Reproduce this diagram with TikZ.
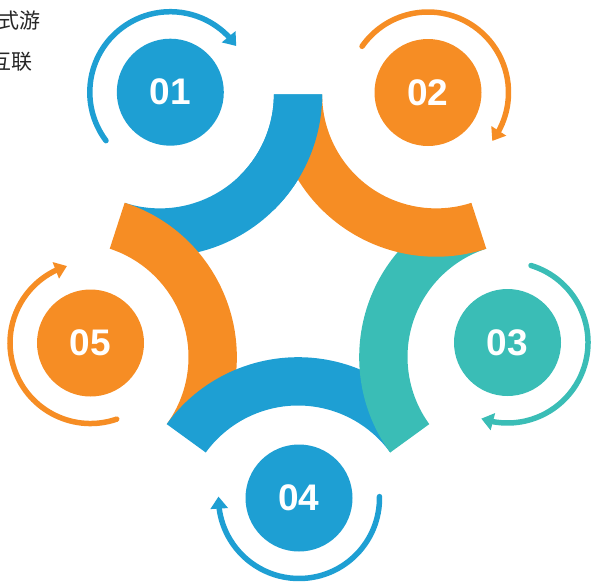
\documentclass[tikz,border=0pt]{standalone}
\usepackage{fontspec}
\setmainfont{Liberation Sans}
\newfontfamily\cjkfont{Noto Sans CJK SC}
\usetikzlibrary{calc,arrows.meta,bending}
\definecolor{cblue}{HTML}{1E9FD3}
\definecolor{corange}{HTML}{F68D24}
\definecolor{cteal}{HTML}{3ABDB6}
\definecolor{ctext}{HTML}{262626}
% band: centre, start angle, colour
\newcommand\mybandshape[3]{%
  \fill[#3] ($(#1)+(#2:162.3)$) arc[start angle=#2, end angle=#2+90, radius=162.3]
    -- ($(#1)+(#2+108:114)$) arc[start angle=#2+108, end angle=#2, radius=114] -- cycle;}
\newcommand\mybandstart[3]{%
  \fill[#3] ($(#1)+(#2:162.3)$) arc[start angle=#2, end angle=#2+45, radius=162.3]
    -- ($(#1)+(#2+45:114)$) arc[start angle=#2+45, end angle=#2, radius=114] -- cycle;}
\begin{document}
\begin{tikzpicture}[x=1pt,y=-1pt,
  numcirc/.style={circle,minimum size=107pt,inner sep=0pt,text=white,
    font=\fontsize{37}{37}\selectfont\bfseries},
  ringarrow/.style={line width=5.5pt,line cap=round,
    -{Triangle[length=12pt,width=17pt]}},
  cjklabel/.style={anchor=base east,inner sep=0pt,text=ctext,
    font=\cjkfont\fontsize{21}{21}\selectfont}]
\useasboundingbox (0,0) rectangle (594,581);
\coordinate (P) at (298,284.5);
\coordinate (B1) at ($(P)+(234:235)$);
\coordinate (B2) at ($(P)+(306:235)$);
\coordinate (B3) at ($(P)+(18:235)$);
\coordinate (B4) at ($(P)+(90:235)$);
\coordinate (B5) at ($(P)+(162:235)$);
% bands
\mybandshape{B1}{0}{cblue}
\mybandshape{B5}{288}{corange}
\mybandshape{B4}{216}{cblue}
\mybandshape{B3}{144}{cteal}
\mybandshape{B2}{72}{corange}
\mybandstart{B1}{0}{cblue}
% circles
\node[numcirc,fill=cblue]   (c1) at (170.3,92.2) {01};
\node[numcirc,fill=corange] (c2) at (428,92.5) {02};
\node[numcirc,fill=cteal]   (c3) at (507.5,342.5) {03};
\node[numcirc,fill=cblue]   (c4) at (299,498) {04};
\node[numcirc,fill=corange] (c5) at (90.5,343) {05};
% arrows
\draw[ringarrow,cblue]   ($(c1.center)+(143:80.5)$) arc[start angle=143,end angle=325,radius=80.5];
\draw[ringarrow,corange] ($(c2.center)+(215:80.5)$) arc[start angle=215,end angle=397,radius=80.5];
\draw[ringarrow,cteal]   ($(c3.center)+(287:80.5)$) arc[start angle=287,end angle=469,radius=80.5];
\draw[ringarrow,cblue]   ($(c4.center)+(359:80.5)$) arc[start angle=359,end angle=541,radius=80.5];
\draw[ringarrow,corange] ($(c5.center)+(71:80.5)$) arc[start angle=71,end angle=253,radius=80.5];
% cut-off text
\node[cjklabel] (t1) at (41,28.5) {式游};
\node[cjklabel] (t2) at (32.5,69) {互联};
\end{tikzpicture}
\end{document}
